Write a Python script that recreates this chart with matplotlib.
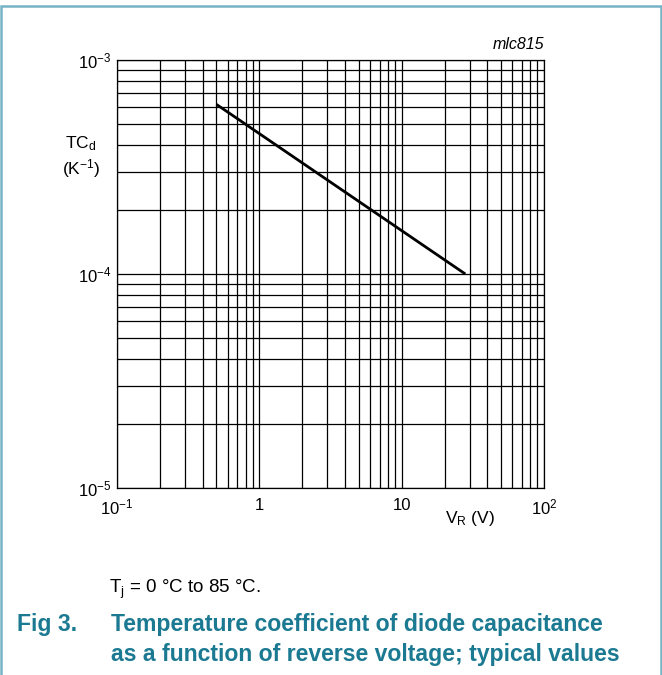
import matplotlib
matplotlib.use("Agg")
import matplotlib.pyplot as plt
from matplotlib.patches import Rectangle
from matplotlib.ticker import LogLocator, NullFormatter, FixedLocator, FixedFormatter

plt.rcParams['font.family'] = ['Liberation Sans', 'DejaVu Sans']
plt.rcParams['mathtext.fontset'] = 'custom'
plt.rcParams['mathtext.rm'] = 'Liberation Sans'
plt.rcParams['mathtext.it'] = 'Liberation Sans:italic'
plt.rcParams['mathtext.bf'] = 'Liberation Sans:bold'

# data
vr = [0.5, 28]
tcd = [6.2e-4, 1.0e-4]
x_ticks = [0.1, 1, 10, 100]
x_labels = [r'$10^{-1}$', '1', '10', r'$10^{2}$']
y_ticks = [1e-5, 1e-4, 1e-3]
y_labels = [r'$10^{-5}$', r'$10^{-4}$', r'$10^{-3}$']

fig = plt.figure(figsize=(6.62, 6.75), dpi=100)
W, H = 662, 675
ax = fig.add_axes([117/W, 1-488/H, (544-117)/W, (488-60)/H])
ax.set_xscale('log')
ax.set_yscale('log')
ax.set_xlim(0.1, 100)
ax.set_ylim(1e-5, 1e-3)

ax.xaxis.set_major_locator(FixedLocator(x_ticks))
ax.xaxis.set_major_formatter(FixedFormatter(x_labels))
ax.yaxis.set_major_locator(FixedLocator(y_ticks))
ax.yaxis.set_major_formatter(FixedFormatter(y_labels))
ax.xaxis.set_minor_locator(LogLocator(base=10, subs=range(2, 10)))
ax.yaxis.set_minor_locator(LogLocator(base=10, subs=range(2, 10)))
ax.xaxis.set_minor_formatter(NullFormatter())
ax.yaxis.set_minor_formatter(NullFormatter())
ax.tick_params(axis='y', which='both', length=0, labelsize=12, pad=4)
ax.tick_params(axis='x', which='both', length=0, labelsize=12, pad=7)
ax.grid(True, which='both', color='black', linewidth=0.9)
for s in ax.spines.values():
    s.set_linewidth(0.9)

ax.plot(vr, tcd, color='black', linewidth=2.0, solid_capstyle='butt')

fig.text(544/W, 1-49/H, 'mlc815', ha='right', va='baseline', fontsize=11.5, style='italic')
fig.text(81/W, 1-144/H, r'TC$_{\mathrm{d}}$', ha='center', va='center', fontsize=12.5)
fig.text(81/W, 1-169/H, r'(K$^{-1}$)', ha='center', va='center', fontsize=12.5)
fig.text(470/W, 1-519/H, r'V$_{\mathrm{R}}$ (V)', ha='center', va='center', fontsize=12.5)

fig.text(109/W, 1-589/H, r'T$_{\mathrm{j}}$ = 0 °C to 85 °C.', ha='left', va='center', fontsize=13.5)
teal = '#1b7a92'
fig.text(17/W, 1-625/H, 'Fig 3.', ha='left', va='center', fontsize=16.6, fontweight='bold', color=teal)
fig.text(111/W, 1-625/H, 'Temperature coefficient of diode capacitance', ha='left', va='center',
         fontsize=16.6, fontweight='bold', color=teal)
fig.text(111/W, 1-654/H, 'as a function of reverse voltage; typical values', ha='left', va='center',
         fontsize=16.6, fontweight='bold', color=teal)

fig.patches.append(Rectangle((1/W, -0.05), (W-2)/W, 1-5.5/H + 0.05, transform=fig.transFigure,
                             fill=False, edgecolor='#76b3c6', linewidth=1.8))

fig.savefig('out.png', dpi=100)
